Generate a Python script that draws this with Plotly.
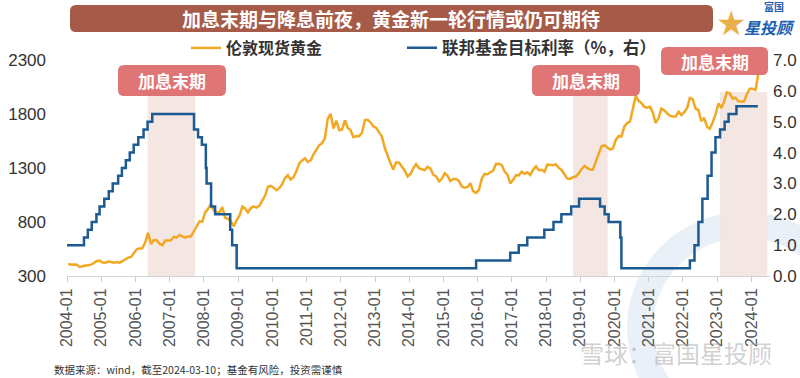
import plotly.graph_objects as go

# ---------------- data ----------------
gold_years = list(range(2004, 2025))
gold_2004 = [414, 405, 406, 404, 384, 392, 398, 400, 405, 420, 439, 442]
gold_2005 = [424, 423, 434, 429, 422, 430, 424, 438, 456, 470, 476, 510]
gold_2006 = [549, 555, 557, 610, 700, 596, 633, 632, 598, 586, 628, 629]
gold_2007 = [631, 664, 655, 680, 668, 655, 666, 665, 712, 754, 806, 803]
gold_2008 = [889, 922, 968, 909, 888, 890, 939, 839, 829, 806, 760, 816]
gold_2009 = [858, 943, 925, 890, 928, 945, 934, 949, 996, 1043, 1127, 1134]
gold_2010 = [1118, 1095, 1113, 1149, 1205, 1232, 1193, 1215, 1271, 1342, 1370, 1391]
gold_2011 = [1356, 1372, 1424, 1474, 1510, 1529, 1572, 1756, 1800, 1665, 1739, 1652]
gold_2012 = [1656, 1742, 1673, 1650, 1585, 1596, 1594, 1626, 1744, 1747, 1721, 1685]
gold_2013 = [1671, 1627, 1593, 1487, 1414, 1343, 1286, 1352, 1349, 1316, 1275, 1222]
gold_2014 = [1244, 1300, 1336, 1299, 1287, 1279, 1311, 1296, 1238, 1222, 1176, 1200]
gold_2015 = [1251, 1227, 1179, 1198, 1199, 1181, 1131, 1117, 1125, 1159, 1086, 1068]
gold_2016 = [1097, 1200, 1246, 1242, 1260, 1276, 1337, 1340, 1326, 1266, 1238, 1157]
gold_2017 = [1192, 1234, 1231, 1266, 1246, 1260, 1236, 1283, 1315, 1280, 1283, 1265]
gold_2018 = [1331, 1331, 1325, 1335, 1303, 1282, 1238, 1202, 1199, 1215, 1221, 1250]
gold_2019 = [1291, 1320, 1301, 1286, 1284, 1359, 1413, 1500, 1511, 1495, 1471, 1480]
gold_2020 = [1560, 1597, 1592, 1683, 1716, 1732, 1847, 1968, 1922, 1900, 1866, 1858]
gold_2021 = [1867, 1808, 1718, 1760, 1850, 1834, 1807, 1785, 1776, 1777, 1821, 1790]
gold_2022 = [1817, 1856, 1948, 1937, 1849, 1837, 1733, 1764, 1681, 1664, 1726, 1798]
gold_2023 = [1898, 1855, 1912, 2000, 1992, 1942, 1951, 1918, 1916, 1916, 1985, 2034]
gold_2024 = [2034, 2023, 2170]
gold_by_year = [gold_2004, gold_2005, gold_2006, gold_2007, gold_2008, gold_2009,
                gold_2010, gold_2011, gold_2012, gold_2013, gold_2014, gold_2015,
                gold_2016, gold_2017, gold_2018, gold_2019, gold_2020, gold_2021,
                gold_2022, gold_2023, gold_2024]

fed_dates = ["2004-01-01", "2004-06-30", "2004-08-10", "2004-09-21", "2004-11-10",
             "2004-12-14", "2005-02-02", "2005-03-22", "2005-05-03", "2005-06-30",
             "2005-08-09", "2005-09-20", "2005-11-01", "2005-12-13", "2006-01-31",
             "2006-03-28", "2006-05-10", "2006-06-29", "2007-09-18", "2007-10-31",
             "2007-12-11", "2008-01-22", "2008-01-30", "2008-03-18", "2008-04-30",
             "2008-10-08", "2008-10-29", "2008-12-16", "2015-12-16", "2016-12-14",
             "2017-03-15", "2017-06-14", "2017-12-13", "2018-03-21", "2018-06-13",
             "2018-09-26", "2018-12-19", "2019-07-31", "2019-09-18", "2019-10-30",
             "2020-03-03", "2020-03-15", "2022-03-16", "2022-05-04", "2022-06-15",
             "2022-07-27", "2022-09-21", "2022-11-02", "2022-12-14", "2023-02-01",
             "2023-03-22", "2023-05-03", "2023-07-26", "2024-03-10"]
fed_rate = [1.00, 1.25, 1.50, 1.75, 2.00, 2.25, 2.50, 2.75, 3.00, 3.25,
            3.50, 3.75, 4.00, 4.25, 4.50, 4.75, 5.00, 5.25, 4.75, 4.50,
            4.25, 3.50, 3.00, 2.25, 2.00, 1.50, 1.00, 0.25, 0.50, 0.75,
            1.00, 1.25, 1.50, 1.75, 2.00, 2.25, 2.50, 2.25, 2.00, 1.75,
            1.25, 0.25, 0.50, 1.00, 1.75, 2.50, 3.25, 4.00, 4.50, 4.75,
            5.00, 5.25, 5.50, 5.50]

period_starts = ["2006-05-10", "2018-10-15", "2023-02-01"]
period_ends = ["2007-10-01", "2019-10-20", "2024-06-20"]
period_label = "加息末期"

tick_years = list(range(2004, 2025))
tick_vals = [f"{y}-01-01" for y in tick_years]
tick_text = [f"{y}-01" for y in tick_years]
left_ticks = [300, 800, 1300, 1800, 2300]
right_ticks = [0, 1, 2, 3, 4, 5, 6, 7]

title_text = "加息末期与降息前夜，黄金新一轮行情或仍可期待"
gold_name = "伦敦现货黄金"
fed_name = "联邦基金目标利率（%，右）"
source_text = "数据来源：wind，截至2024-03-10；基金有风险，投资需谨慎"

# ---------------- build ----------------
gold_x, gold_y = [], []
for yr, vals in zip(gold_years, gold_by_year):
    for m, v in enumerate(vals):
        gold_x.append(f"{yr}-{m + 1:02d}-15")
        gold_y.append(v)

GOLD = "#f1a823"
BLUE = "#1c5a92"
CJK = "Noto Sans CJK SC"
NUM = "Liberation Sans"

# plot area in pixels
L, R, T, B = 67, 770, 60, 276
W, H = 800, 378
PW, PH = R - L, B - T


def xp(px):
    return (px - L) / PW


def yp(py):
    return (B - py) / PH


def rrect(x0, y0, x1, y1, r):
    pts = [
        f"M {xp(x0 + r)} {yp(y0)}",
        f"L {xp(x1 - r)} {yp(y0)}",
        f"Q {xp(x1)} {yp(y0)} {xp(x1)} {yp(y0 + r)}",
        f"L {xp(x1)} {yp(y1 - r)}",
        f"Q {xp(x1)} {yp(y1)} {xp(x1 - r)} {yp(y1)}",
        f"L {xp(x0 + r)} {yp(y1)}",
        f"Q {xp(x0)} {yp(y1)} {xp(x0)} {yp(y1 - r)}",
        f"L {xp(x0)} {yp(y0 + r)}",
        f"Q {xp(x0)} {yp(y0)} {xp(x0 + r)} {yp(y0)}",
        "Z",
    ]
    return " ".join(pts)


fig = go.Figure()

fig.add_trace(go.Scatter(
    x=gold_x, y=gold_y, name=gold_name, mode="lines",
    line=dict(color=GOLD, width=2.5), legend="legend", yaxis="y"))
fig.add_trace(go.Scatter(
    x=fed_dates, y=fed_rate, name=fed_name, mode="lines",
    line=dict(color=BLUE, width=2.5, shape="hv"), legend="legend2", yaxis="y2"))

shapes = []
# background watermark arc
shapes.append(dict(type="circle", xref="paper", yref="paper",
                   x0=xp(640), x1=xp(850), y0=yp(430), y1=yp(225),
                   line=dict(color="rgba(200,218,238,0.4)", width=26),
                   fillcolor="rgba(0,0,0,0)", layer="below"))

for s, e in zip(period_starts, period_ends):
    shapes.append(dict(type="rect", xref="x", yref="paper", x0=s, x1=e,
                       y0=0, y1=yp(92), fillcolor="#f3e6e3", line_width=0,
                       layer="below"))

# title banner
shapes.append(dict(type="path", xref="paper", yref="paper",
                   path=rrect(70, 5, 713, 32, 6), fillcolor="#a65b48",
                   line_width=0, layer="above"))

label_boxes = [(118, 65, 226, 96), (532, 65, 640, 96), (661, 47, 768, 75)]
for (x0, y0, x1, y1) in label_boxes:
    shapes.append(dict(type="path", xref="paper", yref="paper",
                       path=rrect(x0, y0, x1, y1, 6),
                       fillcolor="rgba(220,102,102,0.9)", line_width=0,
                       layer="above"))

annotations = []
annotations.append(dict(xref="paper", yref="paper", x=xp(391), y=yp(18.5),
                        text=f"<b>{title_text}</b>", showarrow=False,
                        font=dict(family=CJK, size=19, color="white"),
                        xanchor="center", yanchor="middle"))
for (x0, y0, x1, y1) in label_boxes:
    annotations.append(dict(xref="paper", yref="paper", x=xp((x0 + x1) / 2),
                            y=yp((y0 + y1) / 2), text=f"<b>{period_label}</b>",
                            showarrow=False,
                            font=dict(family=CJK, size=17, color="white"),
                            xanchor="center", yanchor="middle"))
annotations.append(dict(xref="paper", yref="paper", x=xp(52), y=yp(369),
                        text=source_text, showarrow=False,
                        font=dict(family=CJK, size=10.5, color="#333333"),
                        xanchor="left", yanchor="middle"))
# watermark text
annotations.append(dict(xref="paper", yref="paper", x=xp(578), y=yp(352),
                        text="雪球：富国星投顾", showarrow=False,
                        font=dict(family=CJK, size=24, color="rgba(170,170,170,0.55)"),
                        xanchor="left", yanchor="middle"))
# logo
annotations.append(dict(xref="paper", yref="paper", x=xp(731), y=yp(23),
                        text="★", showarrow=False,
                        font=dict(family="DejaVu Sans", size=34, color="#e9b04a"),
                        xanchor="center", yanchor="middle"))
annotations.append(dict(xref="paper", yref="paper", x=xp(774), y=yp(7),
                        text="<b>富国</b>", showarrow=False,
                        font=dict(family=CJK, size=10, color="#1d5fb0"),
                        xanchor="center", yanchor="middle"))
annotations.append(dict(xref="paper", yref="paper", x=xp(769), y=yp(27),
                        text="<b><i>星投顾</i></b>", showarrow=False,
                        font=dict(family=CJK, size=16, color="#1d5fb0"),
                        xanchor="center", yanchor="middle"))

fig.update_layout(
    width=W, height=H,
    margin=dict(l=L, r=W - R, t=T, b=H - B, autoexpand=False),
    plot_bgcolor="white", paper_bgcolor="white",
    shapes=shapes, annotations=annotations,
    xaxis=dict(type="date", range=["2004-01-01", "2024-07-18"],
               tickvals=tick_vals, ticktext=tick_text, tickangle=-90,
               ticks="outside", ticklen=5, tickcolor="#cccccc",
               showline=True, linecolor="#d4d4d4", linewidth=1,
               showgrid=False, zeroline=False,
               tickfont=dict(family=NUM, size=16, color="#555555")),
    yaxis=dict(range=[300, 2300], tickvals=left_ticks, showgrid=False,
               zeroline=False, showline=False, ticks="",
               ticklabelstandoff=20,
               tickfont=dict(family=NUM, size=17, color="#333333")),
    yaxis2=dict(range=[0, 7], tickvals=right_ticks, tickformat=".1f",
                overlaying="y", side="right", showgrid=False, zeroline=False,
                showline=False, ticks="", ticklabelstandoff=2,
                tickfont=dict(family=NUM, size=17, color="#333333")),
    legend=dict(x=xp(186), y=yp(48), xanchor="left", yanchor="middle",
                orientation="h", bgcolor="rgba(0,0,0,0)",
                font=dict(family=CJK, size=16, color="#333333", weight="bold")),
    legend2=dict(x=xp(402), y=yp(48), xanchor="left", yanchor="middle",
                 orientation="h", bgcolor="rgba(0,0,0,0)",
                 font=dict(family=CJK, size=16.5, color="#333333", weight="bold")),
    showlegend=True,
)

fig.write_html("out.html",
               config={"displayModeBar": False},
               post_script="document.body.style.margin='0';"
                           "document.body.style.overflow='hidden';")
